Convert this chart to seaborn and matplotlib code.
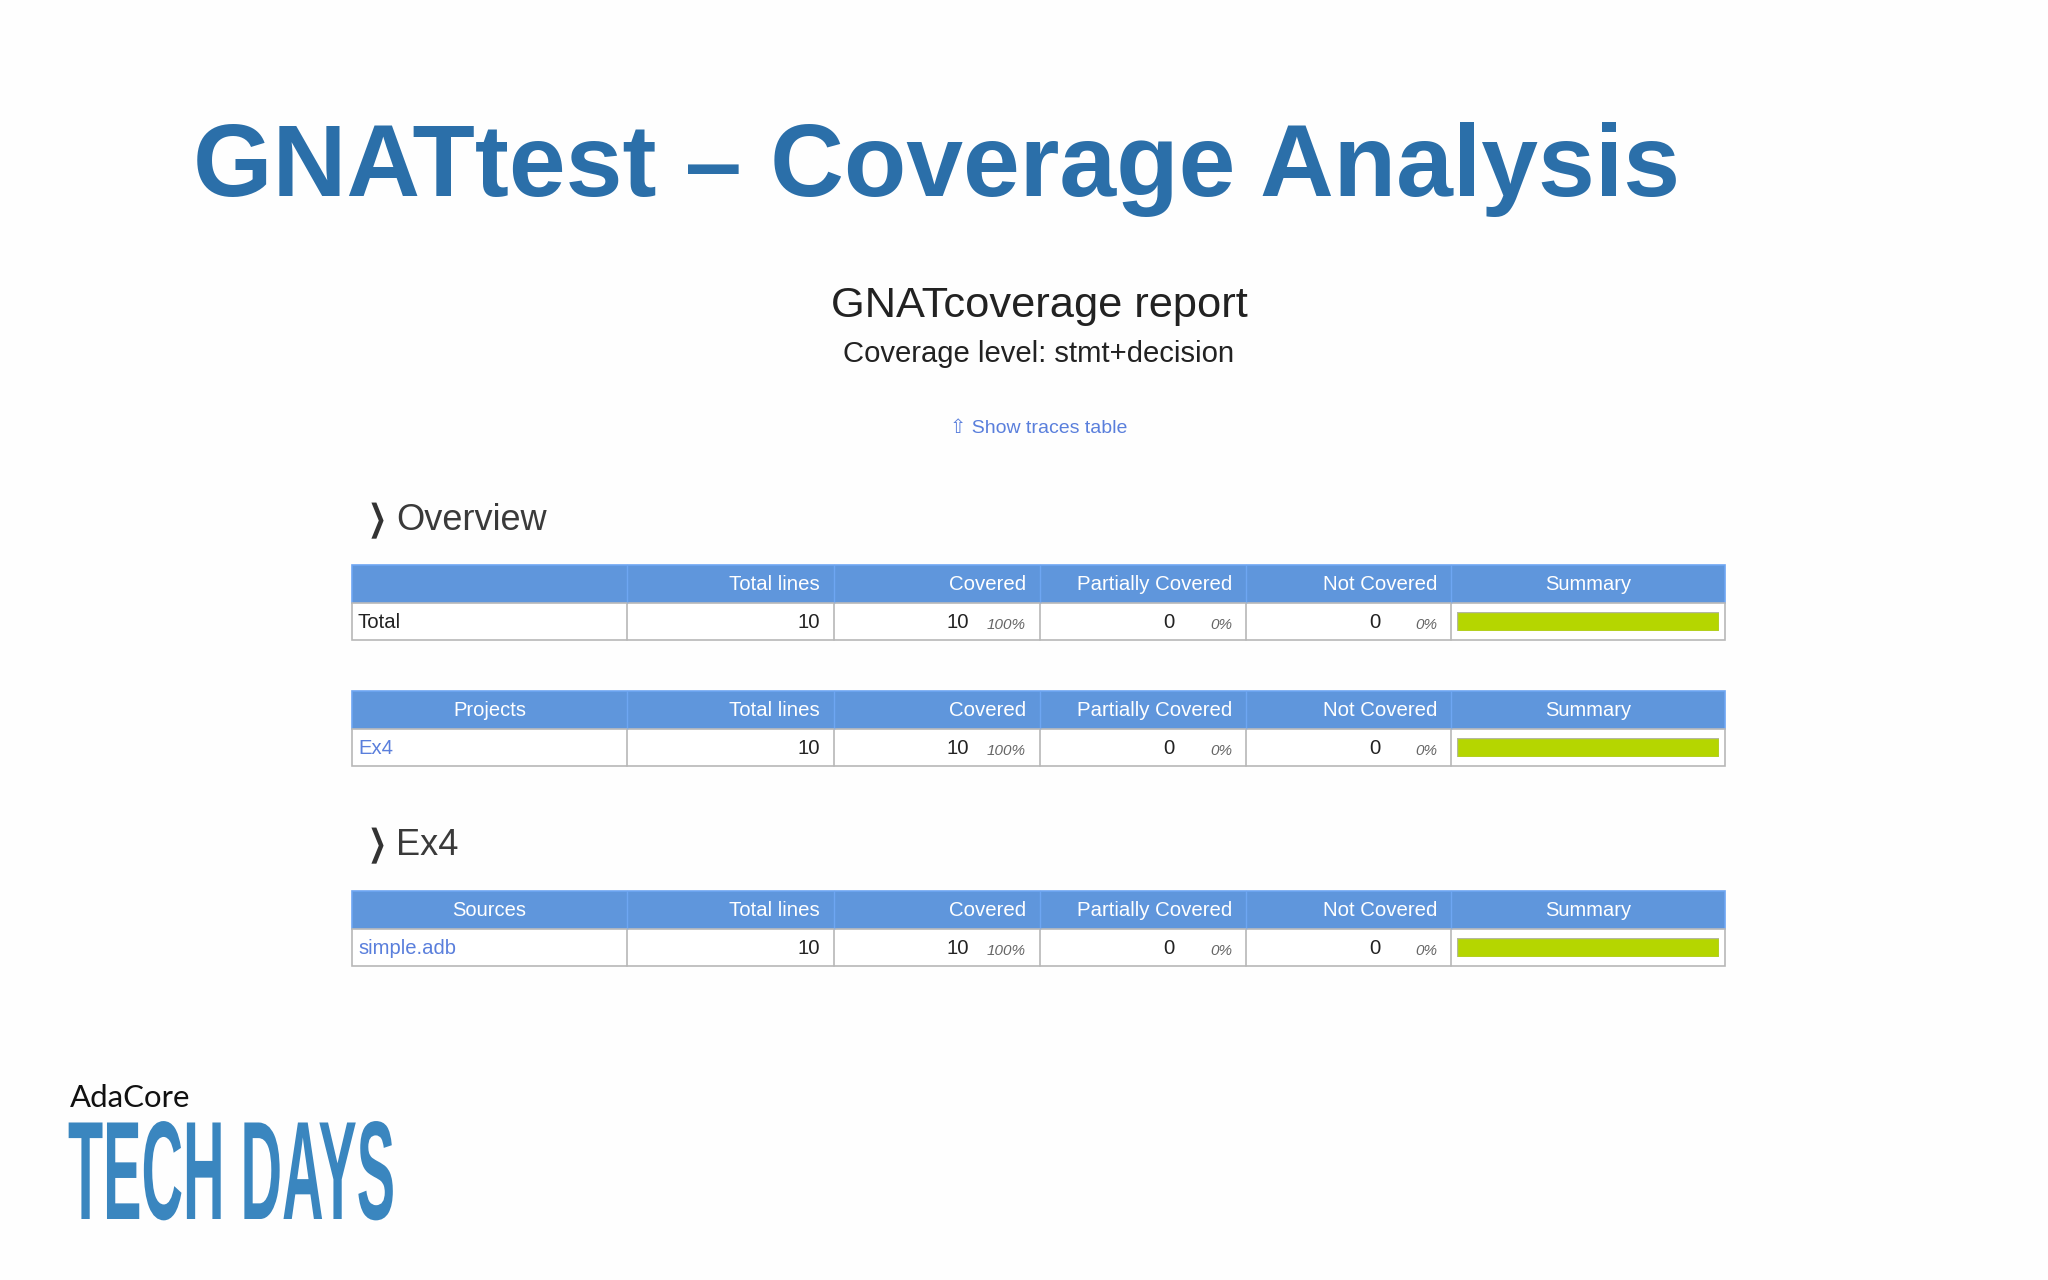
import matplotlib
matplotlib.use("Agg")
import matplotlib.pyplot as plt
import matplotlib.patheffects as pe
from matplotlib.patches import Rectangle
from matplotlib.transforms import Affine2D
import pandas as pd
import seaborn as sns

# values of the three report tables
table_heads = ["", "Projects", "Sources"]
row_names = ["Total", "Ex4", "simple.adb"]
total_lines = [10, 10, 10]
covered = [10, 10, 10]
covered_pct = [100, 100, 100]
partial = [0, 0, 0]
partial_pct = [0, 0, 0]
not_covered = [0, 0, 0]
not_covered_pct = [0, 0, 0]
col_heads = ["Total lines", "Covered", "Partially Covered", "Not Covered"]

BLUE = "#2b6fa9"
LINK = "#5a7fdc"
HEAD = "#5f96dc"
HEAD_EDGE = "#6ea6f2"
BORDER = "#b8b8b8"
LIME = "#b5d600"
DARK = "#222222"
SANS = ["Liberation Sans", "DejaVu Sans"]

sns.set_theme(style="white")
plt.rcParams["font.family"] = SANS


# squeezes a text sideways, starting from its left end
class Squeeze(pe.AbstractPathEffect):
    def __init__(self, sx):
        super().__init__()
        self.sx = sx

    def draw_path(self, renderer, gc, tpath, affine, rgbFace=None):
        renderer.draw_path(gc, tpath, Affine2D().scale(self.sx, 1) + affine, rgbFace)


fig = plt.figure(figsize=(20.48, 12.8), dpi=100, facecolor="#fefefe")
ax = fig.add_axes([0, 0, 1, 1])
ax.set_xlim(0, 2048)
ax.set_ylim(1280, 0)
ax.axis("off")


def put(x, y, s, size, color=DARK, ha="left", **kw):
    return ax.text(x, y, s, fontsize=size, color=color, ha=ha, va="baseline", **kw)


# slide title and report heading
put(193, 196, "GNATtest \u2013 Coverage Analysis", 73.5, BLUE, weight="bold")
put(1039, 317, "GNATcoverage report", 31.2, ha="center")
put(1039, 362, "Coverage level: stmt+decision", 21.1, ha="center")
put(1039, 433, "\u21e7 Show traces table", 14, LINK, ha="center")

# section headings
for y, s in [(530, "Overview"), (855, "Ex4")]:
    chev = put(368, y, "\u276f", 26, "#333333", family=["DejaVu Sans"])
    chev.set_path_effects([Squeeze(0.62)])
    put(396, y, s, 26, "#3a3a3a")

# tables
edges = [352, 627, 834, 1040, 1246, 1451, 1725]
tops = [565, 691, 891]
HEAD_H = 38
ROW_H = 37

for i, top in enumerate(tops):
    mid = top + HEAD_H
    bot = mid + ROW_H
    ax.add_patch(Rectangle((edges[0], top), edges[-1] - edges[0], HEAD_H, fc=HEAD, ec=HEAD_EDGE, lw=1.2))
    ax.add_patch(Rectangle((edges[0], mid), edges[-1] - edges[0], ROW_H, fc="white", ec=BORDER, lw=1.2))
    for x in edges[1:-1]:
        ax.plot([x, x], [top, mid], color=HEAD_EDGE, lw=1)
        ax.plot([x, x], [mid, bot], color=BORDER, lw=1.2)

    head_y = top + 25.5
    row_y = mid + 25
    put((edges[0] + edges[1]) / 2, head_y, table_heads[i], 14.5, "white", ha="center")
    for j, s in enumerate(col_heads):
        put(edges[j + 2] - 14, head_y, s, 14.7, "white", ha="right")
    put((edges[5] + edges[6]) / 2, head_y, "Summary", 14.5, "white", ha="center")

    name_color = DARK if i == 0 else LINK
    put(edges[0] + 6, row_y, row_names[i], 14.6, name_color)
    put(edges[2] - 14, row_y, str(total_lines[i]), 14.6, ha="right")
    nums = [covered[i], partial[i], not_covered[i]]
    pcts = [covered_pct[i], partial_pct[i], not_covered_pct[i]]
    for j in range(3):
        right = edges[j + 3] - 14
        put(right - 57, row_y, str(nums[j]), 14.6, ha="right")
        put(right, row_y + 1, f"{pcts[j]}%", 11, "#666666", ha="right", style="italic")

    # summary bar goes through seaborn
    bar_ax = fig.add_axes([1457 / 2048, 1 - (mid + 28) / 1280, 262 / 2048, 19 / 1280])
    df = pd.DataFrame({"name": [row_names[i]], "pct": [covered_pct[i]]})
    sns.barplot(data=df, x="pct", y="name", color=LIME, saturation=1, width=1, edgecolor="#b4b8a0", linewidth=1, ax=bar_ax)
    bar_ax.set_xlim(0, 100)
    bar_ax.axis("off")

# logo
put(70, 1107, "AdaCore", 22.4, "#111111", family=["Lato"])
t = put(68, 1219, "TECH DAYS", 101, "#3a86bf", weight="bold")
t.set_path_effects([Squeeze(0.41)])

fig.savefig("out.png", dpi=100, facecolor=fig.get_facecolor())
